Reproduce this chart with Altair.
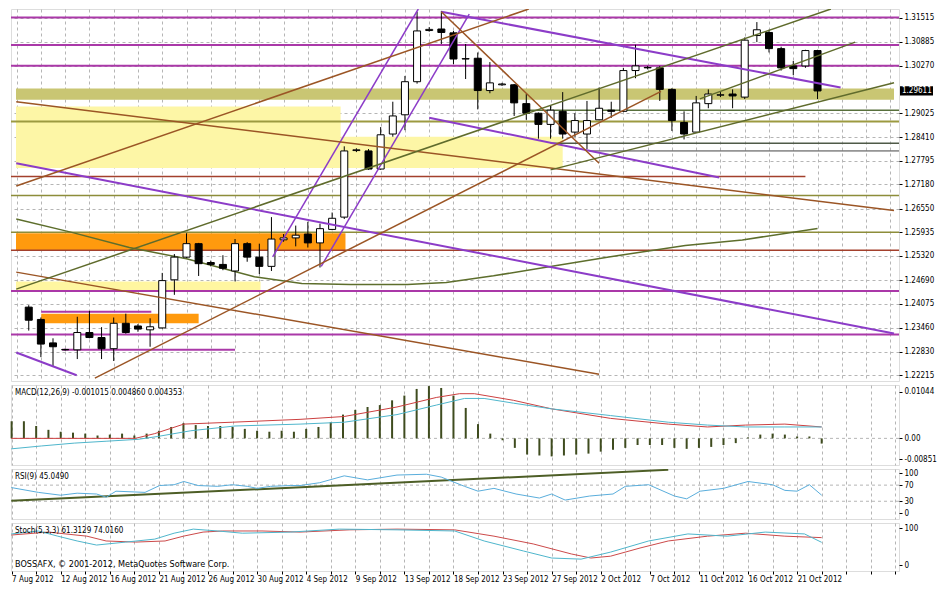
import json
import altair as alt
import pandas as pd

# ---------------- data ----------------
DATE_LABELS = ["7 Aug 2012", "12 Aug 2012", "16 Aug 2012", "21 Aug 2012", "26 Aug 2012",
               "30 Aug 2012", "4 Sep 2012", "9 Sep 2012", "13 Sep 2012", "18 Sep 2012",
               "23 Sep 2012", "27 Sep 2012", "2 Oct 2012", "7 Oct 2012", "11 Oct 2012",
               "16 Oct 2012", "21 Oct 2012"]

BAR_INDEX = list(range(66))
OPEN = [1.2399, 1.2367, 1.2306, 1.2289, 1.2288, 1.2333, 1.2320, 1.2291, 1.2357, 1.2350,
        1.2340, 1.2345, 1.2470, 1.2529, 1.2564, 1.2515, 1.2510, 1.2493, 1.2564, 1.2529,
        1.2505, 1.2574, 1.2579, 1.2589, 1.2566, 1.2601, 1.2633, 1.2806, 1.2805, 1.2758,
        1.2849, 1.2899, 1.2985, 1.3118, 1.3122, 1.3112, 1.3044, 1.3046, 1.2962, 1.2977,
        1.2977, 1.2928, 1.2903, 1.2874, 1.2908, 1.2854, 1.2849, 1.2886, 1.2911, 1.2908,
        1.3014, 1.3022, 1.3021, 1.2965, 1.2879, 1.2854, 1.2928, 1.2950, 1.2953, 1.2945,
        1.3105, 1.3113, 1.3071, 1.3026, 1.3026, 1.3066]
HIGH = [1.2404, 1.2372, 1.2318, 1.2291, 1.2374, 1.2389, 1.2347, 1.2372, 1.2382, 1.2355,
        1.2370, 1.2488, 1.2537, 1.2591, 1.2566, 1.2520, 1.2534, 1.2576, 1.2568, 1.2564,
        1.2633, 1.2589, 1.2611, 1.2621, 1.2616, 1.2645, 1.2817, 1.2812, 1.2810, 1.2867,
        1.2933, 1.3000, 1.3167, 1.3127, 1.3169, 1.3117, 1.3083, 1.3061, 1.3036, 1.2982,
        1.2979, 1.2953, 1.2905, 1.2923, 1.2958, 1.2903, 1.2935, 1.2970, 1.2933, 1.3021,
        1.3081, 1.3026, 1.3026, 1.2968, 1.2908, 1.2948, 1.2965, 1.2958, 1.2965, 1.3100,
        1.3140, 1.3120, 1.3076, 1.3039, 1.3068, 1.3068]
LOW = [1.2338, 1.2269, 1.2244, 1.2286, 1.2264, 1.2318, 1.2264, 1.2259, 1.2330, 1.2335,
       1.2296, 1.2343, 1.2431, 1.2527, 1.2480, 1.2505, 1.2495, 1.2466, 1.2517, 1.2485,
       1.2493, 1.2569, 1.2557, 1.2554, 1.2502, 1.2599, 1.2628, 1.2802, 1.2756, 1.2756,
       1.2842, 1.2859, 1.2980, 1.3115, 1.3083, 1.3031, 1.2992, 1.2913, 1.2955, 1.2974,
       1.2896, 1.2886, 1.2837, 1.2837, 1.2837, 1.2842, 1.2810, 1.2885, 1.2891, 1.2906,
       1.2994, 1.3017, 1.2935, 1.2857, 1.2835, 1.2852, 1.2916, 1.2945, 1.2916, 1.2940,
       1.3088, 1.3061, 1.3014, 1.3002, 1.3021, 1.2940]
CLOSE = [1.2365, 1.2303, 1.2296, 1.2288, 1.2333, 1.2320, 1.2291, 1.2357, 1.2333, 1.2342,
         1.2348, 1.2468, 1.2529, 1.2564, 1.2512, 1.2510, 1.2500, 1.2564, 1.2529, 1.2505,
         1.2576, 1.2579, 1.2586, 1.2566, 1.2603, 1.2630, 1.2805, 1.2808, 1.2758, 1.2847,
         1.2896, 1.2985, 1.3117, 1.3121, 1.3113, 1.3044, 1.3045, 1.2962, 1.2982, 1.2979,
         1.2930, 1.2903, 1.2874, 1.2911, 1.2849, 1.2884, 1.2884, 1.2916, 1.2908, 1.3014,
         1.3026, 1.3021, 1.2965, 1.2884, 1.2849, 1.2930, 1.2953, 1.2951, 1.2948, 1.3093,
         1.3120, 1.3071, 1.3021, 1.3019, 1.3066, 1.2961]

PRICE_TICKS = [1.31515, 1.30885, 1.30270, 1.29025, 1.28410, 1.27795, 1.27180, 1.26550,
               1.25935, 1.25320, 1.24690, 1.24075, 1.23460, 1.22830, 1.22215]
LAST_PRICE = 1.29611
LAST_PRICE_TEXT = "1.29611"

# shaded zones: bar index start/end, price top/bottom, colour
ZONE_I1 = [-1.05, -1.05, 25.7, -1.05, -1.05, 1.03]
ZONE_I2 = [71.3, 25.7, 44.0, 26.1, 19.1, 14.0]
ZONE_TOP = [1.29674, 1.29206, 1.28419, 1.25910, 1.24655, 1.23819]
ZONE_BOT = [1.29378, 1.27607, 1.27607, 1.25467, 1.24409, 1.23573]
ZONE_COLOR = ["#c9c673", "#fdf6a6", "#fdf6a6", "#ff9a0e", "#fff6a0", "#ff9a0e"]

MAG = "#aa38a8"
HL_PRICE = [1.31519, 1.30805, 1.30264, 1.29108, 1.28813, 1.28247, 1.28050, 1.27386,
            1.26894, 1.25934, 1.25467, 1.24409, 1.23278, 1.23868, 1.22884]
HL_I1 = [-2, -2, -2, 41.2, -2, 43.0, 46.2, -2, -2, -2, -2, -2, -2, 1.03, 2.76]
HL_I2 = [75, 75, 75, 75, 75, 75, 75, 64.0, 75, 75, 75, 75, 75, 10.1, 17.0]
HL_COLOR = [MAG, MAG, MAG, "#58703c", "#9c9a40", "#4f5a48", "#444444", "#a3402c",
            "#8d8d3a", "#8d8d3a", "#a3402c", MAG, MAG, MAG, MAG]
HL_WIDTH = [2, 2, 2, 1.5, 2, 1.5, 1, 1.5, 1.5, 1.5, 1.5, 2, 2, 2, 2]

PUR, BRN, OLV = "#8c3cc8", "#9b5525", "#5f6b2c"
TL_I1 = [-1.03, 20.1, 24.1, 34.0, 33.0, -1.03, 34.0, -1.03, 5.45, -1.03, -1.03, -1.03, 43.0, 55.3]
TL_P1 = [1.27730, 1.25295, 1.25049, 1.31670, 1.28911, 1.22810, 1.31670, 1.27140, 1.22146,
         1.24900, 1.29329, 1.24458, 1.27558, 1.29403]
TL_I2 = [71.3, 32.1, 36.3, 66.9, 56.9, 3.95, 47.0, 41.2, 52.1, 47.0, 71.3, 66.1, 71.3, 68.1]
TL_P2 = [1.23302, 1.31740, 1.31607, 1.29698, 1.27361, 1.22220, 1.27730, 1.31740, 1.29600,
         1.22244, 1.26500, 1.31740, 1.29821, 1.30879]
TL_COLOR = [PUR, PUR, PUR, PUR, PUR, PUR, BRN, BRN, BRN, BRN, BRN, OLV, OLV, OLV]
TL_WIDTH = [2, 1.5, 1.5, 2, 2, 2, 1.5, 1.5, 1.5, 1.5, 1.5, 1.5, 1.5, 1.5]

MA_I = [-1.03, 3.55, 8.29, 13.0, 18.6, 22.5, 26.5, 31.2, 34.4, 38.3, 43.0, 47.8, 54.1, 58.8, 65.0]
MA_V = [1.26279, 1.25934, 1.25541, 1.25246, 1.24778, 1.24606, 1.24581, 1.24581, 1.24630,
        1.24803, 1.25049, 1.25295, 1.25590, 1.25738, 1.26033]

MACD_TITLE = "MACD(12,26,9) -0.001015 0.004860 0.004353"
MACD_HIST_I = list(range(-1, 66))
MACD_HIST = [0.00335, 0.00335, 0.00242, 0.00167, 0.00130, 0.00112, 0.00093, 0.00056, 0.00074,
             0.00093, 0.00056, 0.00093, 0.00149, 0.00223, 0.00298, 0.00260, 0.00242, 0.00242,
             0.00223, 0.00186, 0.00149, 0.00130, 0.00149, 0.00130, 0.00186, 0.00223, 0.00316,
             0.00465, 0.00558, 0.00614, 0.00651, 0.00744, 0.00837, 0.00967, 0.01023, 0.00986,
             0.00837, 0.00595, 0.00279, 0.00093, -0.00037, -0.00186, -0.00316, -0.00335,
             -0.00353, -0.00335, -0.00316, -0.00298, -0.00260, -0.00223, -0.00186, -0.00130,
             -0.00130, -0.00130, -0.00186, -0.00205, -0.00186, -0.00167, -0.00130, -0.00093,
             0.00019, 0.00074, 0.00093, 0.00074, 0.00037, 0.00037, -0.00102]
MACD_R_I = [-1.03, 9.08, 10.66, 13.03, 16.98, 22.5, 26.1, 30.4, 33.6, 35.5, 36.7, 39.9, 43.0,
            47.8, 52.5, 55.7, 58.8, 62.0, 65.0]
MACD_R_V = [0, 0, 0.00093, 0.00279, 0.00316, 0.00372, 0.00428, 0.00614, 0.0080, 0.00874,
            0.00874, 0.00744, 0.00577, 0.00391, 0.00279, 0.00223, 0.0026, 0.00279, 0.00223]
MACD_C_I = [-1.03, 1.42, 4.1, 6.7, 9.3, 10.9, 13.6, 17.2, 22.5, 26.1, 30.4, 33.6, 35.9, 37.5,
            39.9, 43.0, 47.8, 52.5, 55.7, 58.8, 62.0, 65.0]
MACD_C_V = [-0.00205, -0.00149, -0.00093, -0.00056, -0.00019, 0.00037, 0.00149, 0.00242,
            0.00279, 0.00316, 0.00465, 0.00651, 0.00781, 0.00781, 0.00688, 0.00577, 0.00446,
            0.00316, 0.0026, 0.00223, 0.00223, 0.00223]

RSI_TITLE = "RSI(9) 45.0490"
RSI_I = [-1.03, 1.18, 3.0, 4.34, 5.92, 6.71, 7.5, 9.87, 11.06, 12.24, 13.03, 14.2, 15.8, 17.0,
         18.2, 19.0, 20.1, 21.7, 22.5, 24.1, 26.1, 28.0, 30.4, 32.8, 34.0, 35.9, 37.0, 38.3,
         40.1, 42.0, 43.0, 44.1, 46.1, 48.0, 49.0, 50.9, 53.0, 54.0, 55.1, 57.0, 59.0, 61.0,
         62.0, 63.0, 64.0, 65.0]
RSI_V = [64, 52, 45, 50, 48, 40, 55, 52, 69, 71, 79, 69, 67, 71, 67, 62, 67, 69, 69, 76,
         93, 83, 95, 97, 90, 67, 55, 62, 48, 38, 48, 33, 43, 48, 67, 71, 43, 36, 55, 62,
         79, 71, 57, 55, 71, 45.05]
RSI_TL_I = [-1.03, 52.5]
RSI_TL_V = [31, 108]

ST_TITLE = "Stoch(5,3,3) 61.3129 74.0160"
ST_D_I = [-1.03, 1.97, 5.13, 6.7, 9.1, 11.5, 13.0, 14.6, 16.2, 19.4, 22.5, 26.5, 30.4, 35.1,
          38.3, 41.5, 44.6, 46.2, 47.8, 50.2, 52.5, 55.7, 58.8, 62.0, 65.0]
ST_D_V = [81, 89, 78, 65, 62, 65, 78, 89, 92, 92, 89, 95, 97, 95, 78, 57, 30, 19, 24, 46,
          65, 78, 86, 78, 74.016]
ST_K_I = [-1.03, 1.18, 2.76, 4.34, 5.92, 8.29, 10.66, 12.24, 13.8, 15.8, 17.8, 21.7, 25.7,
          30.4, 35.1, 37.5, 40.7, 43.0, 45.4, 47.8, 50.9, 54.1, 57.3, 60.4, 63.6, 65.0]
ST_K_V = [84, 92, 78, 65, 54, 62, 70, 86, 97, 92, 86, 89, 97, 95, 92, 65, 38, 19, 16, 35,
          65, 84, 78, 89, 84, 61.31]
COPYRIGHT = "BOSSAFX, © 2001-2012, MetaQuotes Software Corp."

# ---------------- layout / style ----------------
W = 888
H_MAIN, H_MACD, H_RSI, H_ST = 372, 80, 50, 48
XDOM = [-1.05, 71.3]
GRID_X = list(range(-1, 72, 2))
FONT = "DejaVu Sans Condensed"
GRID_COLOR = "#b5b5b5"

n_lab = len(DATE_LABELS)
LABEL_EXPR = ("((datum.value + 1) % 4 == 0 && (datum.value + 1) / 4 < " + str(n_lab) + ") ? "
              + json.dumps(DATE_LABELS) + "[(datum.value + 1) / 4] : ''")


def xenc(field, bottom=False):
    if bottom:
        axis = alt.Axis(values=GRID_X, grid=True, gridColor=GRID_COLOR, gridDash=[3, 3],
                        labels=True, ticks=True, tickSize=3, tickColor="black",
                        labelExpr=LABEL_EXPR, labelAlign="left", labelOverlap=False,
                        labelFlush=False, labelFontSize=8, labelFont=FONT, labelPadding=1,
                        labelColor="black", domain=False, title=None)
    else:
        axis = alt.Axis(values=GRID_X, grid=True, gridColor=GRID_COLOR, gridDash=[3, 3],
                        labels=False, ticks=False, domain=False, title=None)
    return alt.X(f"{field}:Q", scale=alt.Scale(domain=XDOM, nice=False, zero=False), axis=axis)


def make_y(domain, values, fmt=None, label_expr=None, grid=False):
    kw = dict(orient="right", values=values, grid=grid, gridColor=GRID_COLOR, gridDash=[3, 3],
              title=None, labelFontSize=8, labelFont=FONT, labelColor="black",
              tickSize=3, tickColor="black", labelPadding=2, domain=False,
              labelOverlap=False, labelFlush=False)
    if fmt:
        kw["format"] = fmt
    if label_expr:
        kw["labelExpr"] = label_expr

    def f(field):
        return alt.Y(f"{field}:Q", scale=alt.Scale(domain=domain, nice=False, zero=False),
                     axis=alt.Axis(**kw))
    return f


ymain = make_y([1.2207, 1.3174], PRICE_TICKS, fmt=".5f", grid=True)

# ---------------- main price panel ----------------
candles = pd.DataFrame({"i": BAR_INDEX, "open": OPEN, "high": HIGH, "low": LOW, "close": CLOSE})
candles["fill"] = ["white" if c >= o else "black" for o, c in zip(OPEN, CLOSE)]
zones = pd.DataFrame({"i1": ZONE_I1, "i2": ZONE_I2, "p1": ZONE_TOP, "p2": ZONE_BOT, "c": ZONE_COLOR})
hls = pd.DataFrame({"i1": HL_I1, "i2": HL_I2, "p": HL_PRICE, "c": HL_COLOR, "w": HL_WIDTH})
tls = pd.DataFrame({"i1": TL_I1, "i2": TL_I2, "p1": TL_P1, "p2": TL_P2, "c": TL_COLOR, "w": TL_WIDTH})
ma = pd.DataFrame({"i": MA_I, "v": MA_V})
last = pd.DataFrame({"p": [LAST_PRICE], "pt": [LAST_PRICE + 0.0012], "pb": [LAST_PRICE - 0.0012],
                     "t": [LAST_PRICE_TEXT]})

l_zones = alt.Chart(zones).mark_rect(clip=True).encode(
    x=xenc("i1"), x2="i2", y=ymain("p1"), y2="p2", color=alt.Color("c:N", scale=None))
l_hl = alt.Chart(hls).mark_rule(clip=True).encode(
    x=xenc("i1"), x2="i2", y=ymain("p"), color=alt.Color("c:N", scale=None),
    strokeWidth=alt.StrokeWidth("w:Q", scale=None))
l_ma = alt.Chart(ma).mark_line(color="#5d6e2c", strokeWidth=1.5, clip=True).encode(
    x=xenc("i"), y=ymain("v"))
l_wick = alt.Chart(candles).mark_rule(color="black", strokeWidth=1).encode(
    x=xenc("i"), y=ymain("low"), y2="high")
l_body = alt.Chart(candles).mark_bar(size=7, stroke="black", strokeWidth=1).encode(
    x=xenc("i"), y=ymain("open"), y2="close", fill=alt.Fill("fill:N", scale=None))
l_tl = alt.Chart(tls).mark_rule(clip=True).encode(
    x=xenc("i1"), x2="i2", y=ymain("p1"), y2="p2", color=alt.Color("c:N", scale=None),
    strokeWidth=alt.StrokeWidth("w:Q", scale=None))
l_box = alt.Chart(last).mark_rect(color="black").encode(
    x=alt.value(W + 1), x2=alt.value(W + 34), y=ymain("pt"), y2="pb")
l_boxt = alt.Chart(last).mark_text(align="left", baseline="middle", color="white",
                                   fontSize=8, font=FONT).encode(
    x=alt.value(W + 3), y=ymain("p"), text="t:N")

main = alt.layer(l_zones, l_hl, l_ma, l_wick, l_body, l_tl, l_box, l_boxt).properties(
    width=W, height=H_MAIN)

# ---------------- MACD panel ----------------
ymacd = make_y([-0.00521, 0.01044], [0.0091, 0.0, -0.0041],
               label_expr="datum.value > 0.005 ? '0.01044' : (datum.value < -0.002 ? '-0.00851' : '0.00')")
hist = pd.DataFrame({"i": MACD_HIST_I, "v": MACD_HIST})
mr = pd.DataFrame({"i": MACD_R_I, "v": MACD_R_V})
mc = pd.DataFrame({"i": MACD_C_I, "v": MACD_C_V})
zero = pd.DataFrame({"v": [0.0]})


def title_df(t):
    return pd.DataFrame({"t": [t]})


m_zero = alt.Chart(zero).mark_rule(color=GRID_COLOR, strokeDash=[3, 3]).encode(y=ymacd("v"))
m_hist = alt.Chart(hist).mark_rule(color="#3f4c1f", strokeWidth=2).encode(
    x=xenc("i"), y=ymacd("v"), y2=alt.datum(0))
m_red = alt.Chart(mr).mark_line(color="#cc4040", strokeWidth=1).encode(x=xenc("i"), y=ymacd("v"))
m_cyan = alt.Chart(mc).mark_line(color="#4fb6cc", strokeWidth=1).encode(x=xenc("i"), y=ymacd("v"))
m_title = alt.Chart(title_df(MACD_TITLE)).mark_text(align="left", baseline="middle", fontSize=8,
                                                    font=FONT, color="black").encode(
    x=alt.value(4), y=alt.value(8), text="t:N")
macd = alt.layer(m_zero, m_hist, m_red, m_cyan, m_title).properties(width=W, height=H_MACD)

# ---------------- RSI panel ----------------
yrsi = make_y([-14, 110], [100, 70, 30, 0], fmt="d")
rsi_df = pd.DataFrame({"i": RSI_I, "v": RSI_V})
rsi_tl = pd.DataFrame({"i": RSI_TL_I, "v": RSI_TL_V})
lv = pd.DataFrame({"v": [70, 30]})
r_lv = alt.Chart(lv).mark_rule(color=GRID_COLOR, strokeDash=[3, 3]).encode(y=yrsi("v"))
r_tl = alt.Chart(rsi_tl).mark_line(color="#4d5e26", strokeWidth=2, clip=True).encode(
    x=xenc("i"), y=yrsi("v"))
r_line = alt.Chart(rsi_df).mark_line(color="#5aaedc", strokeWidth=1).encode(x=xenc("i"), y=yrsi("v"))
r_title = alt.Chart(title_df(RSI_TITLE)).mark_text(align="left", baseline="middle", fontSize=8,
                                                  font=FONT, color="black").encode(
    x=alt.value(4), y=alt.value(8), text="t:N")
rsi = alt.layer(r_lv, r_tl, r_line, r_title).properties(width=W, height=H_RSI)

# ---------------- Stochastic panel ----------------
yst = make_y([-16, 113.5], [100, 0], fmt="d")
kd = pd.DataFrame({"i": ST_K_I, "v": ST_K_V})
dd = pd.DataFrame({"i": ST_D_I, "v": ST_D_V})
s_d = alt.Chart(dd).mark_line(color="#cc4a4a", strokeWidth=1).encode(
    x=xenc("i", True), y=yst("v"))
s_k = alt.Chart(kd).mark_line(color="#4fb6cc", strokeWidth=1).encode(
    x=xenc("i", True), y=yst("v"))
s_title = alt.Chart(title_df(ST_TITLE)).mark_text(align="left", baseline="middle", fontSize=8,
                                                 font=FONT, color="black").encode(
    x=alt.value(4), y=alt.value(8), text="t:N")
s_copy = alt.Chart(title_df(COPYRIGHT)).mark_text(align="left", baseline="middle", fontSize=9,
                                                 font=FONT, color="black").encode(
    x=alt.value(4), y=alt.value(H_ST - 7), text="t:N")
stoch = alt.layer(s_d, s_k, s_title, s_copy).properties(width=W, height=H_ST)

chart = alt.vconcat(main, macd, rsi, stoch, spacing=2, padding=0).configure_view(
    stroke="black", strokeWidth=1).configure(background="white")

chart.save("out.html", embed_options={"renderer": "svg", "actions": False})
